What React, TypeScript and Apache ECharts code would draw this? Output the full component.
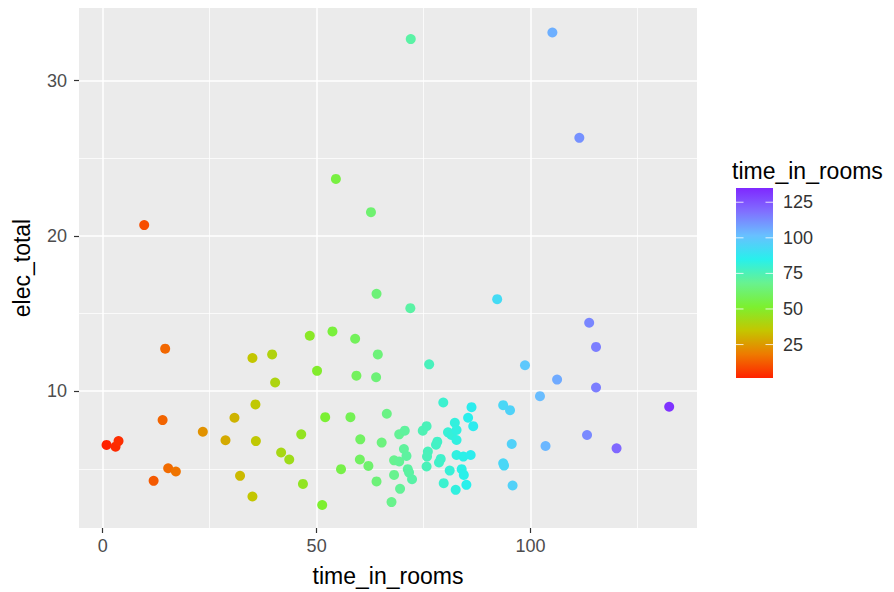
import React, { useEffect, useRef } from "react";
import * as echarts from "echarts";

const timeInRooms = [
  0.9, 3.0, 3.7, 9.7, 11.9, 14.0, 14.6, 15.3, 17.1, 23.4,
  28.7, 30.8, 32.1, 35.0, 35.0, 35.7, 35.8, 39.6, 40.3, 41.7,
  43.6, 46.4, 46.8, 48.4, 50.1, 51.3, 52.0, 53.7, 54.5, 55.7,
  57.9, 59.0, 59.3, 60.2, 60.1, 62.1, 62.7, 63.9, 64.0, 64.3,
  64.0, 65.2, 66.4, 67.5, 68.1, 68.1, 69.3, 69.3, 69.5, 70.4,
  70.6, 71.0, 71.3, 71.6, 72.3, 71.9, 72.0, 74.8, 75.7, 76.0,
  75.8, 75.7, 76.3, 78.2, 77.9, 79.0, 78.6, 79.6, 79.7, 80.7,
  81.5, 82.3, 82.7, 82.7, 81.1, 82.5, 82.7, 84.3, 86.0, 83.9,
  84.4, 85.0, 85.4, 86.2, 86.6, 92.2, 93.6, 95.2, 95.6, 93.6,
  93.8, 95.8, 98.7, 102.2, 103.5, 105.1, 106.2, 111.4, 113.7, 115.3,
  115.3, 113.2, 120.1, 132.4,
];

const elecTotal = [
  6.54, 6.43, 6.79, 20.7, 4.23, 8.14, 12.74, 5.04, 4.83, 7.39,
  6.84, 8.29, 4.55, 12.14, 3.22, 9.15, 6.79, 12.37, 10.56, 6.05,
  5.6, 7.22, 4.03, 13.57, 11.31, 2.67, 8.33, 13.85, 23.67, 4.98,
  8.33, 13.38, 11.0, 6.9, 5.6, 5.19, 21.53, 10.9, 16.27, 12.37,
  4.19, 6.69, 8.55, 2.86, 5.55, 4.61, 7.22, 5.47, 3.71, 6.28,
  7.46, 5.83, 4.98, 4.76, 4.33, 15.35, 32.68, 7.46, 7.75, 6.11,
  5.79, 5.15, 11.73, 6.75, 6.55, 5.64, 5.41, 9.27, 4.08, 7.35,
  7.18, 7.97, 7.5, 6.86, 4.89, 3.65, 5.89, 5.79, 5.89, 4.98,
  4.61, 3.97, 8.29, 8.97, 7.75, 15.93, 9.1, 8.78, 6.6, 5.36,
  5.21, 3.93, 11.67, 9.68, 6.47, 33.1, 10.75, 26.32, 14.41, 12.85,
  10.24, 7.18, 6.32, 9.0,
];

const xMajorTicks = [0, 50, 100];
const xMinorTicks = [25, 75, 125];
const yMajorTicks = [10, 20, 30];
const yMinorTicks = [5, 15, 25];
const legendTicks = [25, 50, 75, 100, 125];

const X_MIN = -5.54;
const X_MAX = 138.9;
const Y_MIN = 1.19;
const Y_MAX = 34.68;

const COLOR_MIN = 1.5;
const COLOR_MAX = 135;
const colorStops = [
  "#FF2200",
  "#EE7A00",
  "#C4C600",
  "#7CF030",
  "#68F290",
  "#28F0EC",
  "#68C0FF",
  "#8070FF",
  "#7F28FF",
];

const FONT = "Liberation Sans, Arial, sans-serif";

export default function App() {
  const ref = useRef<HTMLDivElement>(null);

  useEffect(() => {
    if (!ref.current) return;
    const chart = echarts.init(ref.current, null, { renderer: "svg" });

    const data = timeInRooms.map((t, i) => [t, elecTotal[i]]);

    const barX = 736;
    const barY = 188;
    const barW = 37;
    const barH = 190;
    const valToBarY = (v: number) =>
      barY + barH - ((v - COLOR_MIN) / (COLOR_MAX - COLOR_MIN)) * barH;

    const gradStops = colorStops.map((c, i) => ({
      offset: i / (colorStops.length - 1),
      color: c,
    }));

    const legendGraphics: any[] = [
      {
        type: "text",
        left: 732,
        top: 159,
        style: {
          text: "time_in_rooms",
          font: `23px ${FONT}`,
          fill: "#000000",
        },
      },
      {
        type: "rect",
        shape: { x: barX, y: barY, width: barW, height: barH },
        style: {
          fill: new echarts.graphic.LinearGradient(0, 1, 0, 0, gradStops),
        },
      },
    ];
    legendTicks.forEach((v) => {
      const y = valToBarY(v);
      legendGraphics.push(
        {
          type: "line",
          shape: { x1: barX, y1: y, x2: barX + 7.5, y2: y },
          style: { stroke: "#FFFFFF", lineWidth: 1, opacity: 0.8 },
        },
        {
          type: "line",
          shape: { x1: barX + barW - 7.5, y1: y, x2: barX + barW, y2: y },
          style: { stroke: "#FFFFFF", lineWidth: 1, opacity: 0.8 },
        },
        {
          type: "text",
          x: 783,
          y: y,
          style: {
            text: String(v),
            font: `18px ${FONT}`,
            fill: "#333333",
            verticalAlign: "middle",
            align: "left",
          },
        }
      );
    });

    const gridLineData: any[] = [];
    xMajorTicks.forEach((v) =>
      gridLineData.push({ xAxis: v, lineStyle: { color: "#FFFFFF", width: 1.5, type: "solid" } })
    );
    xMinorTicks.forEach((v) =>
      gridLineData.push({ xAxis: v, lineStyle: { color: "#FFFFFF", width: 0.75, type: "solid" } })
    );
    yMajorTicks.forEach((v) =>
      gridLineData.push({ yAxis: v, lineStyle: { color: "#FFFFFF", width: 1.5, type: "solid" } })
    );
    yMinorTicks.forEach((v) =>
      gridLineData.push({ yAxis: v, lineStyle: { color: "#FFFFFF", width: 0.75, type: "solid" } })
    );

    chart.setOption({
      animation: false,
      textStyle: { fontFamily: FONT },
      grid: {
        left: 79,
        top: 8,
        right: 197,
        bottom: 62,
        show: true,
        backgroundColor: "#EBEBEB",
        borderWidth: 0,
        containLabel: false,
      },
      xAxis: {
        type: "value",
        min: X_MIN,
        max: X_MAX,
        name: "time_in_rooms",
        nameLocation: "middle",
        nameGap: 36,
        nameTextStyle: { fontSize: 23, color: "#000000", fontFamily: FONT },
        axisLine: { show: false, onZero: false },
        axisTick: {
          show: true,
          length: 5,
          lineStyle: { color: "#333333", width: 1.2 },
          customValues: xMajorTicks,
        },
        axisLabel: {
          show: true,
          fontSize: 18,
          color: "#4D4D4D",
          margin: 9,
          fontFamily: FONT,
          customValues: xMajorTicks,
        },
        splitLine: { show: false },
        minorSplitLine: { show: false },
      },
      yAxis: {
        type: "value",
        min: Y_MIN,
        max: Y_MAX,
        name: "elec_total",
        nameLocation: "middle",
        nameGap: 46,
        nameRotate: 90,
        nameTextStyle: { fontSize: 23, color: "#000000", fontFamily: FONT },
        axisLine: { show: false, onZero: false },
        axisTick: {
          show: true,
          length: 5,
          lineStyle: { color: "#333333", width: 1.2 },
          customValues: yMajorTicks,
        },
        axisLabel: {
          show: true,
          fontSize: 18,
          color: "#4D4D4D",
          margin: 12,
          fontFamily: FONT,
          customValues: yMajorTicks,
        },
        splitLine: { show: false },
        minorSplitLine: { show: false },
      },
      visualMap: {
        type: "continuous",
        show: false,
        seriesIndex: 1,
        dimension: 0,
        min: COLOR_MIN,
        max: COLOR_MAX,
        inRange: { color: colorStops },
      },
      graphic: legendGraphics,
      series: [
        {
          type: "scatter",
          data: [],
          z: 1,
          silent: true,
          markLine: {
            z: 1,
            silent: true,
            symbol: ["none", "none"],
            label: { show: false },
            emphasis: { disabled: true },
            animation: false,
            data: gridLineData,
          },
        },
        {
          type: "scatter",
          data: data,
          z: 5,
          symbol: "circle",
          symbolSize: 10,
          itemStyle: { opacity: 1 },
        },
      ],
    });

    return () => chart.dispose();
  }, []);

  return (
    <div
      ref={ref}
      style={{ position: "fixed", left: 0, top: 0, width: 894, height: 592, background: "#FFFFFF" }}
    />
  );
}
